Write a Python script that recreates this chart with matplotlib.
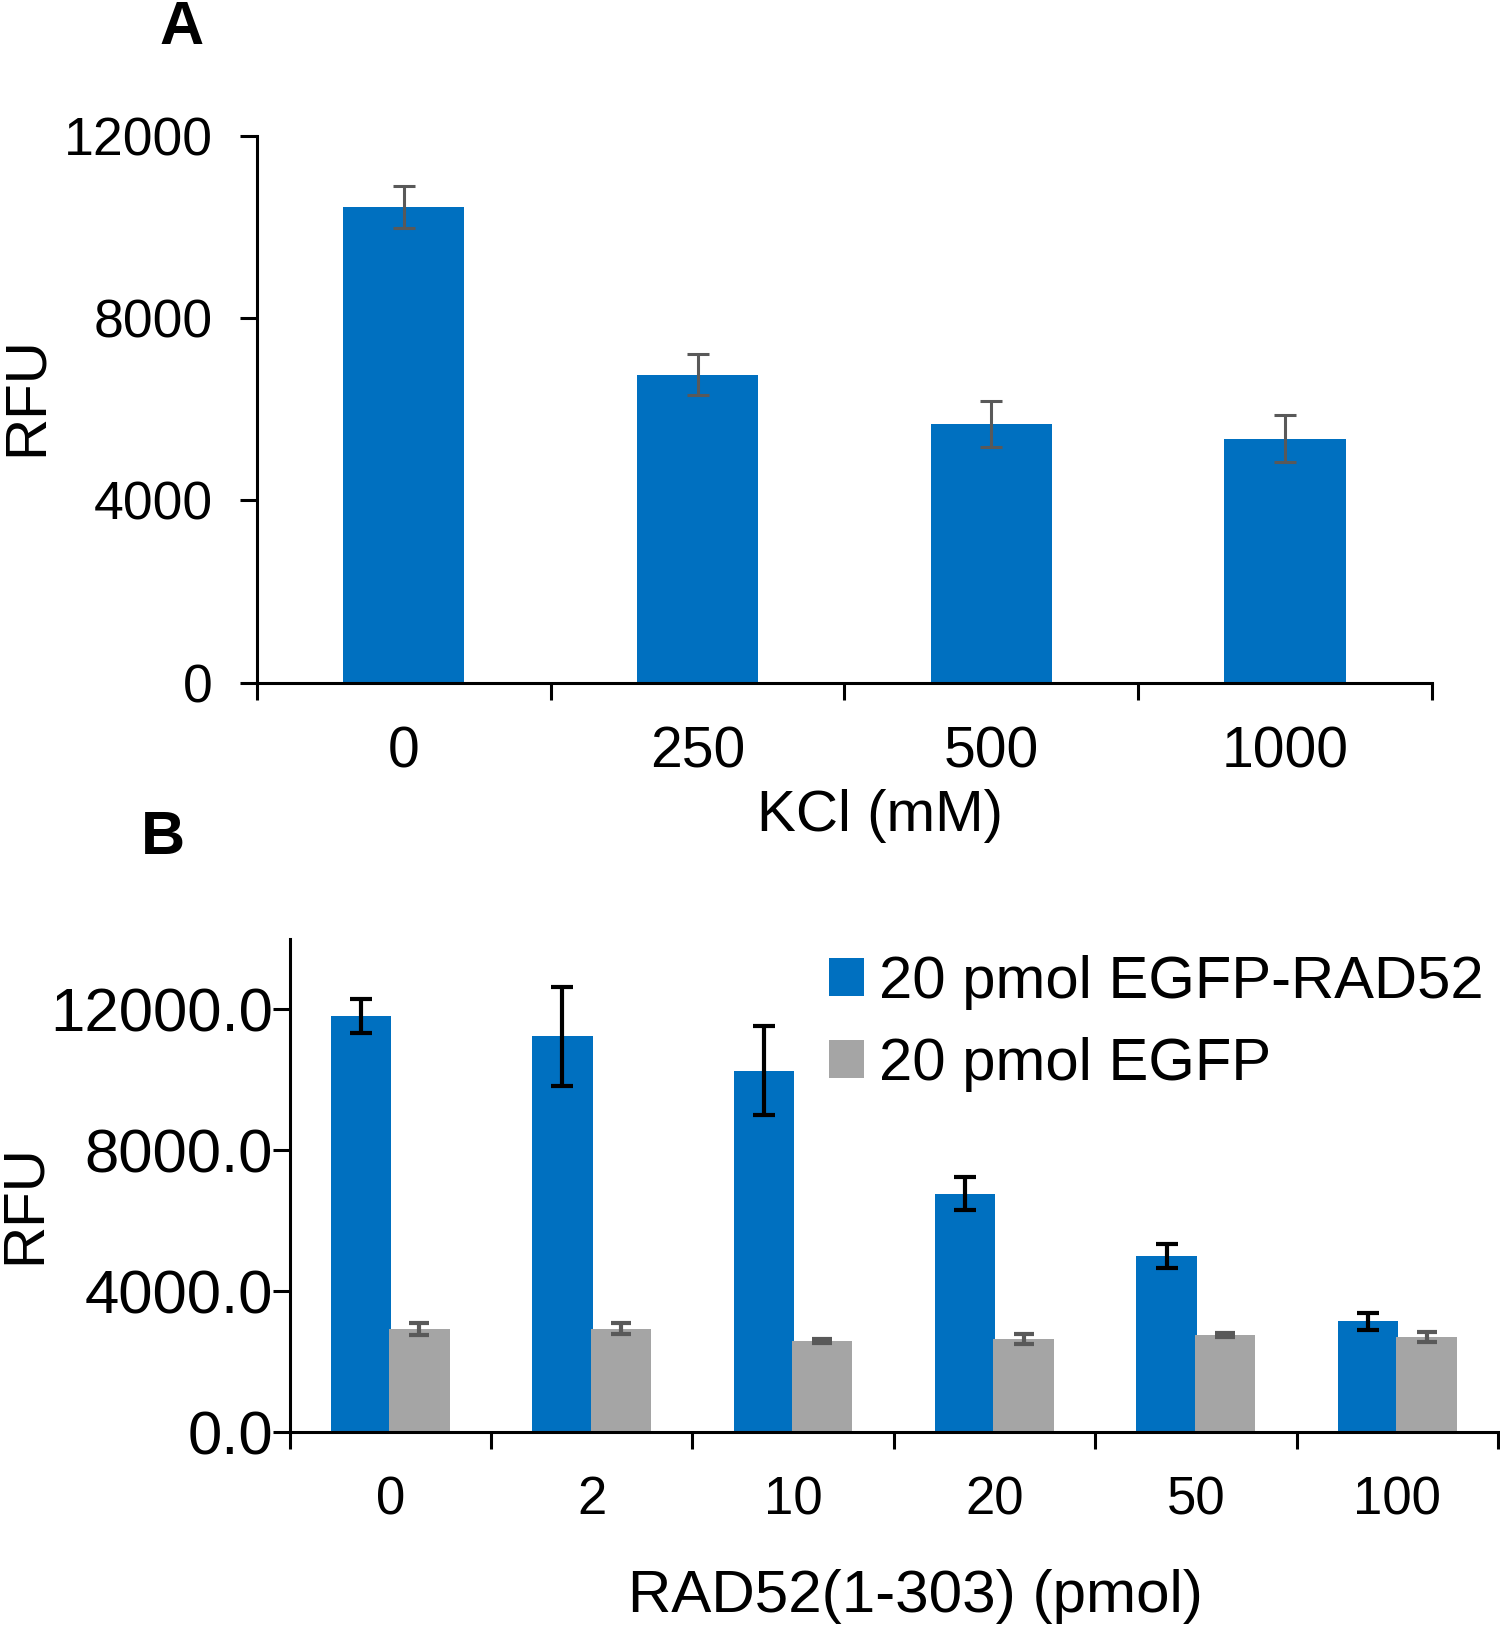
import matplotlib
matplotlib.use("Agg")
import matplotlib.pyplot as plt
import numpy as np

plt.rcParams['font.family'] = ['Liberation Sans', 'DejaVu Sans']

# panel A data
kcl_labels = ["0", "250", "500", "1000"]
kcl_rfu = [10430, 6760, 5670, 5350]
kcl_err = [460, 455, 500, 520]

# panel B data
rad_labels = ["0", "2", "10", "20", "50", "100"]
egfp_rad52 = [11820, 11230, 10260, 6770, 5000, 3150]
egfp_rad52_err = [480, 1400, 1270, 470, 350, 250]
egfp = [2940, 2940, 2590, 2650, 2770, 2710]
egfp_err = [170, 150, 50, 140, 60, 150]

blue = "#0070C0"
grey = "#A5A5A5"
errgrey = "#595959"

fig = plt.figure(figsize=(15, 16.27), dpi=100)


def style_axis(ax, n, ypad):
    for s in ["top", "right"]:
        ax.spines[s].set_visible(False)
    for s in ["left", "bottom"]:
        ax.spines[s].set_linewidth(2.2)
    ax.set_xlim(-0.5, n - 0.5)
    # tick marks on category boundaries, labels at centres
    ax.set_xticks(np.arange(n + 1) - 0.5)
    ax.set_xticklabels([])
    ax.tick_params(axis="x", which="major", direction="out", length=12, width=2.2)
    ax.set_xticks(np.arange(n), minor=True)
    ax.tick_params(axis="x", which="minor", length=0, pad=31)
    ax.tick_params(axis="y", direction="out", length=12, width=2.2, pad=ypad)


# ---- A ----
axA = fig.add_axes([0.1713, 0.5805, 0.7833, 0.336])
xa = np.arange(len(kcl_labels))
axA.bar(xa, kcl_rfu, width=0.413, color=blue, zorder=2)
axA.errorbar(xa, kcl_rfu, yerr=kcl_err, fmt="none", ecolor=errgrey,
             elinewidth=2.2, capsize=8, capthick=2.2, zorder=3)
style_axis(axA, len(kcl_labels), 20)
axA.set_ylim(0, 12000)
axA.set_yticks([0, 4000, 8000, 12000])
axA.set_xticklabels(kcl_labels, minor=True)
for lab in axA.get_xticklabels(minor=True):
    lab.set_fontsize(41)
for lab in axA.get_yticklabels():
    lab.set_fontsize(38.5)

fig.text(27 / 1500, 1 - 396 / 1627, "RFU", rotation=90, fontsize=42, ha="center", va="center")
fig.text(880 / 1500, 1 - 816 / 1627, "KCl (mM)", fontsize=42, ha="center", va="center")
fig.text(182 / 1500, 1 - 29 / 1627, "A", fontsize=44, fontweight="bold", ha="center", va="center")

# ---- B ----
axB = fig.add_axes([0.193, 0.1196, 0.8057, 0.3034])
xb = np.arange(len(rad_labels))
off = 0.145
w = 0.30
axB.bar(xb - off, egfp_rad52, width=w, color=blue, label="20 pmol EGFP-RAD52", zorder=2)
axB.bar(xb + off, egfp, width=w, color=grey, label="20 pmol EGFP", zorder=2)
axB.errorbar(xb - off, egfp_rad52, yerr=egfp_rad52_err, fmt="none", ecolor="black",
             elinewidth=3, capsize=8, capthick=3, zorder=3)
axB.errorbar(xb + off, egfp, yerr=egfp_err, fmt="none", ecolor=errgrey,
             elinewidth=3, capsize=7, capthick=3, zorder=3)
style_axis(axB, len(rad_labels), 0)
axB.set_ylim(0, 14000)
axB.set_yticks([0, 4000, 8000, 12000])
axB.set_yticklabels([f"{v:.1f}" for v in [0, 4000, 8000, 12000]])
axB.set_xticklabels(rad_labels, minor=True)
for lab in axB.get_xticklabels(minor=True):
    lab.set_fontsize(38)
for lab in axB.get_yticklabels():
    lab.set_fontsize(44.5)

leg = axB.legend(loc="upper left", bbox_to_anchor=(829 / 1500, 1 - 955 / 1627),
                 bbox_transform=fig.transFigure, frameon=False, fontsize=43,
                 handlelength=0.58, handleheight=0.62, handletextpad=0.25,
                 labelspacing=0.45, borderaxespad=0, borderpad=0)

fig.text(25 / 1500, 1 - 1204 / 1627, "RFU", rotation=90, fontsize=42, ha="center", va="center")
fig.text(915 / 1500, 1 - 1597 / 1627, "RAD52(1-303) (pmol)", fontsize=43.3, ha="center", va="center")
fig.text(163 / 1500, 1 - 838 / 1627, "B", fontsize=44, fontweight="bold", ha="center", va="center")

fig.savefig("out.png", dpi=100)
plt.close(fig)
